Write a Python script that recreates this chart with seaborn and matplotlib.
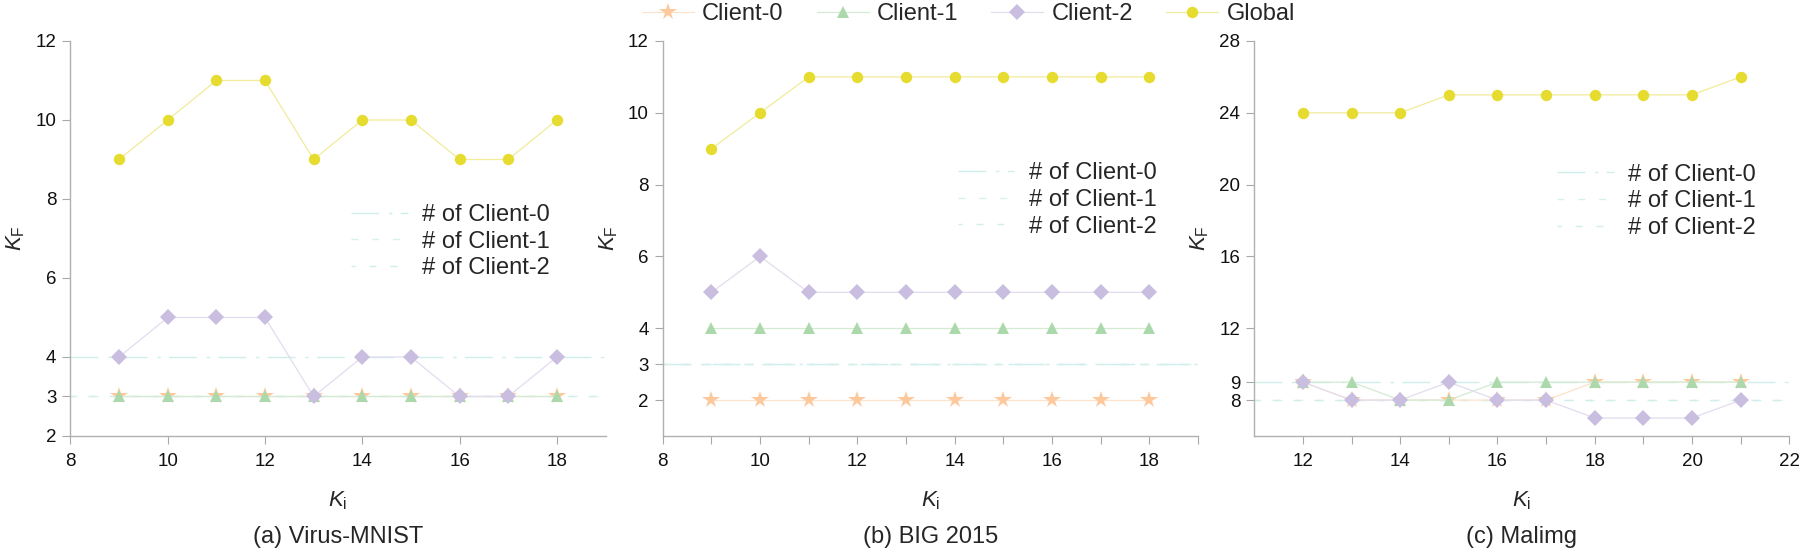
import numpy as np
import pandas as pd
import seaborn as sns
import matplotlib
matplotlib.use("Agg")
import matplotlib.pyplot as plt
from matplotlib.ticker import FixedLocator

# ---- data ----
ki_a = [9, 10, 11, 12, 13, 14, 15, 16, 17, 18]
c0_a = [3, 3, 3, 3, 3, 3, 3, 3, 3, 3]
c1_a = [3, 3, 3, 3, 3, 3, 3, 3, 3, 3]
c2_a = [4, 5, 5, 5, 3, 4, 4, 3, 3, 4]
glob_a = [9, 10, 11, 11, 9, 10, 10, 9, 9, 10]
true_a = [4, 3, 3]

ki_b = [9, 10, 11, 12, 13, 14, 15, 16, 17, 18]
c0_b = [2, 2, 2, 2, 2, 2, 2, 2, 2, 2]
c1_b = [4, 4, 4, 4, 4, 4, 4, 4, 4, 4]
c2_b = [5, 6, 5, 5, 5, 5, 5, 5, 5, 5]
glob_b = [9, 10, 11, 11, 11, 11, 11, 11, 11, 11]
true_b = [3, 3, 3]

ki_c = [12, 13, 14, 15, 16, 17, 18, 19, 20, 21]
c0_c = [9, 8, 8, 8, 8, 8, 9, 9, 9, 9]
c1_c = [9, 9, 8, 8, 9, 9, 9, 9, 9, 9]
c2_c = [9, 8, 8, 9, 8, 8, 7, 7, 7, 8]
glob_c = [24, 24, 24, 25, 25, 25, 25, 25, 25, 26]
true_c = [9, 8, 8]

series_names = ["Client-0", "Client-1", "Client-2", "Global"]
titles = ["(a) Virus-MNIST", "(b) BIG 2015", "(c) Malimg"]

sns.set_style("ticks")
plt.rcParams["font.family"] = ["Liberation Sans", "DejaVu Sans"]
plt.rcParams["mathtext.fontset"] = "custom"
plt.rcParams["mathtext.it"] = "Liberation Sans:italic"
plt.rcParams["mathtext.rm"] = "Liberation Sans"

mk_col = ["#fdc89b", "#acd9ac", "#c9bde0", "#e6dc2f"]
ln_col = ["#fde3cc", "#d3ebd3", "#e3dcef", "#f1eb9a"]
markers = ["*", "^", "D", "o"]
msizes = [13, 9, 8.5, 8.2]
ref_col = ["#cdeee9", "#d5f2ee", "#d0efea"]
ref_dash = [(0, (20, 7, 2.5, 6)), (0, (5, 10)), (2, (5, 10))]

panels = [
    (ki_a, [c0_a, c1_a, c2_a, glob_a], true_a, (8, 19), (2, 12),
     [8, 10, 12, 14, 16, 18], None, [2, 3, 4, 6, 8, 10, 12], (0.913, 0.492)),
    (ki_b, [c0_b, c1_b, c2_b, glob_b], true_b, (8, 19), (1, 12),
     [8, 10, 12, 14, 16, 18], [9, 11, 13, 15, 17, 19], [2, 3, 4, 6, 8, 10, 12], (0.94, 0.598)),
    (ki_c, [c0_c, c1_c, c2_c, glob_c], true_c, (11, 22), (6, 28),
     [12, 14, 16, 18, 20, 22], [13, 15, 17, 19, 21], [8, 9, 12, 16, 20, 24, 28], (0.955, 0.594)),
]

fig = plt.figure(figsize=(18, 5.54), dpi=100)
lefts = [0.0391, 0.3682, 0.6968]

for i, (ki, ys, true_k, xl, yl, xt, xminor, yt, leg_xy) in enumerate(panels):
    ax = fig.add_axes([lefts[i], 0.213, 0.2973, 0.713])

    # horizontal reference lines: true number of classes per client
    ref_handles = []
    for j, v in enumerate(true_k):
        h = ax.axhline(v, color=ref_col[j], lw=1.0, linestyle=ref_dash[j],
                       zorder=1, label=f"# of Client-{j}")
        ref_handles.append(h)

    for j, (name, y) in enumerate(zip(series_names, ys)):
        df = pd.DataFrame({"Ki": ki, "KF": y})
        sns.lineplot(data=df, x="Ki", y="KF", ax=ax, color=ln_col[j],
                     marker=markers[j], markersize=msizes[j],
                     markerfacecolor=mk_col[j], markeredgecolor=mk_col[j],
                     markeredgewidth=0, linewidth=0.9, label=name,
                     zorder=3 + j, legend=False)

    ax.set_xlim(*xl)
    ax.set_ylim(*yl)
    ax.xaxis.set_major_locator(FixedLocator(xt))
    if xminor:
        ax.xaxis.set_minor_locator(FixedLocator(xminor))
    ax.yaxis.set_major_locator(FixedLocator(yt))
    ax.set_yticklabels([str(v) for v in yt])
    ax.set_xticklabels([str(v) for v in xt])

    sns.despine(ax=ax)
    for sp in ["left", "bottom"]:
        ax.spines[sp].set_color("#b0b0b0")
        ax.spines[sp].set_linewidth(1.0)
    ax.tick_params(axis="both", which="both", direction="out", length=6,
                   width=0.8, color="#a8a8a8", labelsize=13.5, pad=4,
                   labelcolor="#111111")
    ax.tick_params(axis="x", which="both", pad=6)

    ax.set_xlabel(r"$K_\mathrm{i}$", fontsize=16, labelpad=14)
    ax.set_ylabel(r"$K_\mathrm{F}$", fontsize=16, labelpad=6)

    ax.legend(handles=ref_handles, loc="center right", bbox_to_anchor=leg_xy,
              borderaxespad=0, frameon=False, fontsize=17, handlelength=2.4,
              handletextpad=0.6, labelspacing=0.2)

    ax.text(0.5, -0.255, titles[i], transform=ax.transAxes, ha="center",
            va="center", fontsize=17)

    if i == 0:
        top_handles = [ln for ln in ax.get_lines() if ln.get_label() in series_names]

fig.legend(handles=top_handles, labels=series_names, loc="center",
           bbox_to_anchor=(0.538, 0.975), ncol=4, frameon=False, fontsize=17,
           handlelength=2.2, handletextpad=0.35, columnspacing=1.4)

fig.savefig("out.png", dpi=100)
